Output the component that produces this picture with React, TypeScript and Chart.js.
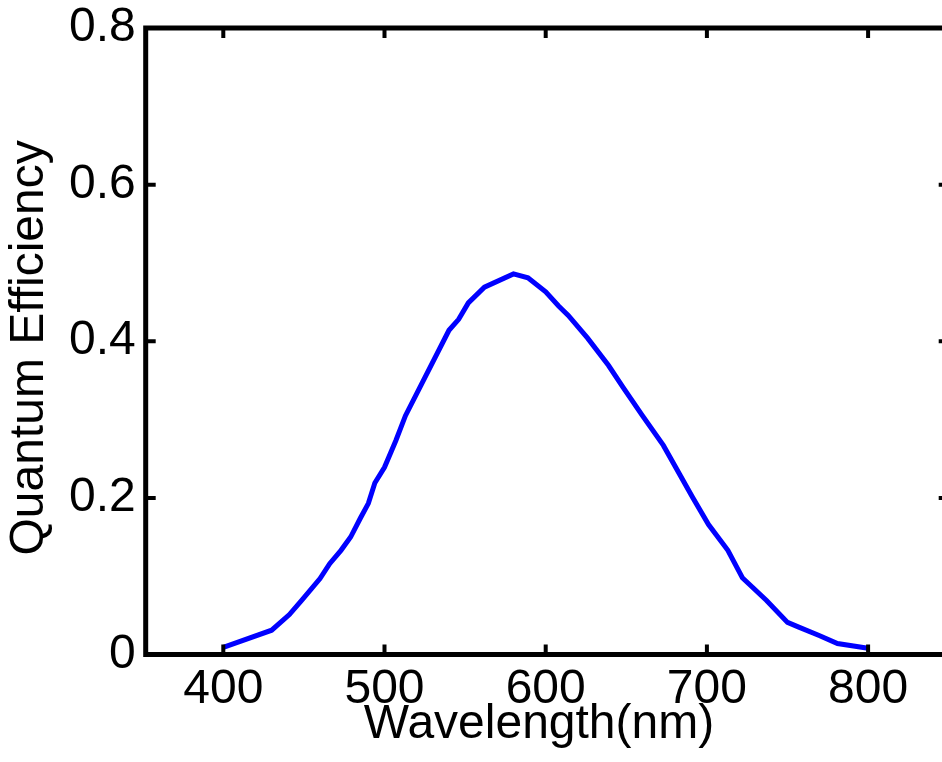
import React, { useEffect, useRef } from "react";
import { Chart, registerables } from "chart.js";

Chart.register(...registerables);

const WAVELENGTHS = [400, 430, 441, 449, 460, 466, 473, 479, 485, 490, 494, 500, 507, 513, 540, 546, 552, 562, 580, 589, 600, 608, 614, 626, 639, 648, 660, 673, 691, 701, 713, 722, 737, 750, 757, 770, 781, 800];
const QE = [0.009, 0.031, 0.051, 0.070, 0.097, 0.116, 0.133, 0.150, 0.174, 0.193, 0.219, 0.239, 0.273, 0.305, 0.414, 0.428, 0.449, 0.469, 0.486, 0.481, 0.463, 0.445, 0.433, 0.404, 0.369, 0.341, 0.305, 0.267, 0.201, 0.166, 0.133, 0.098, 0.069, 0.041, 0.035, 0.024, 0.014, 0.008];
const X_TICKS = [400, 500, 600, 700, 800];
const Y_TICKS = [0, 0.2, 0.4, 0.6, 0.8];
const X_RANGE = [350, 850];
const Y_RANGE = [0, 0.8];
const X_TITLE = "Wavelength(nm) ";
const Y_TITLE = "Quantum Efficiency ";

const W = 970;
const H = 762;
const FONT = { family: "'Liberation Sans', Arial, sans-serif", size: 48 };

const boxPlugin = {
  id: "matlabBox",
  afterDatasetsDraw(chart: any) {
    const { ctx, chartArea: a, scales } = chart;
    ctx.save();
    ctx.strokeStyle = "#000";
    ctx.lineWidth = 5;
    ctx.strokeRect(a.left + 3, a.top, a.right - a.left - 3, a.bottom - a.top);
    ctx.lineWidth = 4;
    const L = 10;
    X_TICKS.forEach((v) => {
      const px = scales.x.getPixelForValue(v);
      ctx.beginPath();
      ctx.moveTo(px, a.bottom);
      ctx.lineTo(px, a.bottom - L);
      ctx.moveTo(px, a.top);
      ctx.lineTo(px, a.top + L);
      ctx.stroke();
    });
    Y_TICKS.forEach((v) => {
      const py = scales.y.getPixelForValue(v);
      ctx.beginPath();
      ctx.moveTo(a.left + 3, py);
      ctx.lineTo(a.left + 3 + L, py);
      ctx.moveTo(a.right, py);
      ctx.lineTo(a.right - L, py);
      ctx.stroke();
    });
    ctx.restore();
  },
};

export default function App() {
  const ref = useRef<HTMLCanvasElement | null>(null);
  useEffect(() => {
    if (!ref.current) return;
    const chart = new Chart(ref.current, {
      type: "line",
      data: {
        datasets: [
          {
            data: WAVELENGTHS.map((x, i) => ({ x, y: QE[i] })),
            borderColor: "#0000ff",
            borderWidth: 5,
            pointRadius: 0,
            tension: 0,
            fill: false,
          },
        ],
      },
      options: {
        animation: false,
        responsive: false,
        devicePixelRatio: 1,
        layout: { padding: { left: 0, top: 28, right: W - 948.7, bottom: 0 } },
        plugins: { legend: { display: false }, tooltip: { enabled: false } },
        scales: {
          x: {
            type: "linear",
            min: X_RANGE[0],
            max: X_RANGE[1],
            afterBuildTicks: (s: any) => {
              s.ticks = X_TICKS.map((value) => ({ value }));
            },
            afterFit: (s: any) => {
              s.height = H - 654.5;
              s.paddingLeft = 0;
              s.paddingRight = 0;
            },
            grid: { display: false, drawTicks: false },
            border: { display: false },
            ticks: { color: "#000", font: FONT, padding: 6, maxRotation: 0, autoSkip: false },
            title: { display: true, text: X_TITLE, color: "#000", font: FONT, padding: { top: 0, bottom: 8 } },
          },
          y: {
            type: "linear",
            min: Y_RANGE[0],
            max: Y_RANGE[1],
            afterBuildTicks: (s: any) => {
              s.ticks = Y_TICKS.map((value) => ({ value }));
            },
            afterFit: (s: any) => {
              s.width = 142.7;
              s.paddingTop = 0;
              s.paddingBottom = 0;
            },
            grid: { display: false, drawTicks: false },
            border: { display: false },
            ticks: { color: "#000", font: FONT, padding: 7, autoSkip: false },
            title: { display: true, text: Y_TITLE, color: "#000", font: FONT, padding: { top: 1, bottom: 0 } },
          },
        },
      },
      plugins: [boxPlugin],
    });
    return () => chart.destroy();
  }, []);
  return (
    <div style={{ position: "fixed", left: 0, top: 0, width: 942, height: 762, overflow: "hidden", background: "#fff" }}>
      <canvas ref={ref} width={W} height={H} style={{ display: "block" }} />
    </div>
  );
}
